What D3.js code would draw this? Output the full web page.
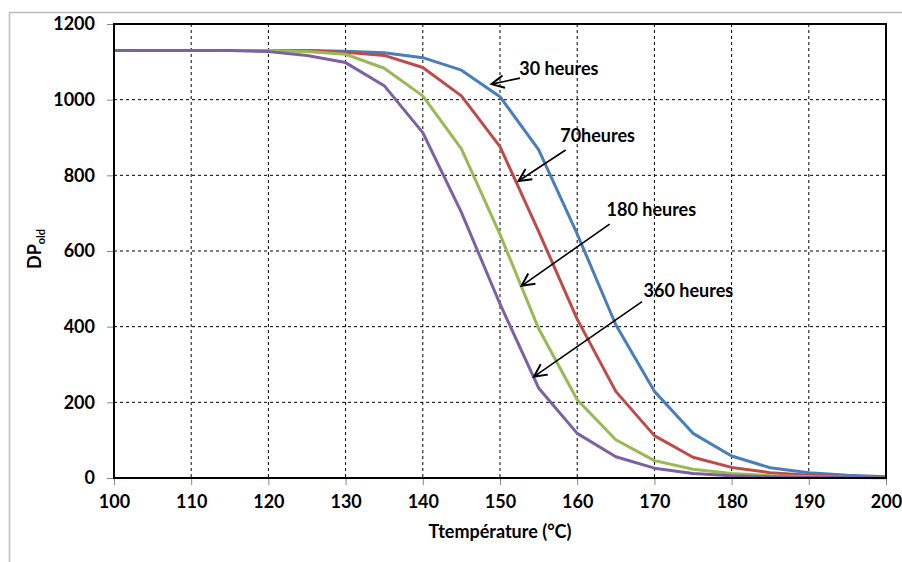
<!DOCTYPE html>
<html>
<head>
<meta charset="utf-8">
<script src="https://cdn.jsdelivr.net/npm/d3@7"></script>
<style>
  body { margin: 0; background: #fff; }
  svg text { font-family: Lato, "Open Sans", sans-serif; font-weight: bold; fill: #000; }
</style>
</head>
<body>
<div class="main"></div>
<script>
// temperature (°C) at which DP was computed
let temps = [100, 105, 110, 115, 120, 125, 130, 135, 140, 145, 150, 155, 160, 165, 170, 175, 180, 185, 190, 195, 200]

// DP_old after each ageing duration
let dp30h  = [1130, 1130, 1130, 1130, 1130, 1130, 1128, 1124, 1111, 1078, 1008, 868, 645, 405, 229, 118, 58, 27, 14, 7, 3]
let dp70h  = [1130, 1130, 1130, 1130, 1130, 1129, 1125, 1117, 1085, 1010, 876, 652, 420, 229, 112, 55, 28, 14, 7, 4, 2]
let dp180h = [1130, 1130, 1130, 1130, 1130, 1127, 1120, 1083, 1010, 870, 644, 395, 207, 101, 46, 23, 12, 6, 3, 2, 1]
let dp360h = [1130, 1130, 1130, 1130, 1127, 1117, 1098, 1037, 913, 702, 460, 238, 118, 56, 26, 12, 6, 3, 1.5, 1, 0.5]

let seriesNames = ['30 heures', '70heures', '180 heures', '360 heures']
let xTicks = [100, 110, 120, 130, 140, 150, 160, 170, 180, 190, 200]
let yTicks = [0, 200, 400, 600, 800, 1000, 1200]

// arrow tip / tail and label anchor, in data units
let noteTipT  = [148.9, 152.4, 152.8, 154.4]
let noteTipV  = [1041, 785, 508, 268]
let noteTailT = [152.6, 158.5, 164.2, 168.4]
let noteTailV = [1057, 867, 671, 466]
let noteTextT = [152.5, 157.8, 163.8, 168.6]
let noteTextV = [1065, 889, 692, 478]

let colors = ['#4a7ebb', '#be4b48', '#98b954', '#7d60a0']
let allSeries = [dp30h, dp70h, dp180h, dp360h]

let width = 902, height = 562
let plot = {left: 114, right: 886, top: 24, bottom: 478}

let svg = d3.select('.main').append('svg')
  .attr('width', width)
  .attr('height', height)

// outer chart frame
svg.append('rect')
  .attr('x', 9.5).attr('y', 12.5)
  .attr('width', 900).attr('height', 560)
  .attr('fill', 'none')
  .attr('stroke', '#bcbcbc')
  .attr('stroke-width', 1.5)

let xScale = d3.scaleLinear().domain([100, 200]).range([plot.left, plot.right])
let yScale = d3.scaleLinear().domain([0, 1200]).range([plot.bottom, plot.top])

// dashed grid
svg.append('g')
  .selectAll('line').data(xTicks.slice(1, -1)).enter().append('line')
    .attr('x1', d => xScale(d)).attr('x2', d => xScale(d))
    .attr('y1', plot.top).attr('y2', plot.bottom)
    .attr('stroke', '#000').attr('stroke-width', 1)
    .attr('stroke-dasharray', '3,3')

svg.append('g')
  .selectAll('line').data(yTicks.slice(1, -1)).enter().append('line')
    .attr('x1', plot.left).attr('x2', plot.right)
    .attr('y1', d => yScale(d)).attr('y2', d => yScale(d))
    .attr('stroke', '#000').attr('stroke-width', 1)
    .attr('stroke-dasharray', '3,3')

let xAxis = d3.axisBottom(xScale).tickValues(xTicks).tickFormat(d3.format('d')).tickSize(7).tickPadding(10)
let yAxis = d3.axisLeft(yScale).tickValues(yTicks).tickFormat(d3.format('d')).tickSize(7).tickPadding(12)

let gx = svg.append('g')
  .attr('transform', `translate(0, ${plot.bottom})`)
  .call(xAxis)
gx.select('.domain').remove()
gx.selectAll('.tick line').attr('stroke', '#868686')
gx.selectAll('.tick text').style('font-size', '18px')

let gy = svg.append('g')
  .attr('transform', `translate(${plot.left}, 0)`)
  .call(yAxis)
gy.select('.domain').remove()
gy.selectAll('.tick line').attr('stroke', '#868686')
gy.selectAll('.tick text').style('font-size', '18px')

// curves
let line = d3.line()
  .x((d, i) => xScale(temps[i]))
  .y(d => yScale(d))

svg.append('g')
  .selectAll('path').data(allSeries).enter().append('path')
    .attr('d', line)
    .attr('fill', 'none')
    .attr('stroke', (d, i) => colors[i])
    .attr('stroke-width', 3)
    .attr('stroke-linejoin', 'round')

// plot frame
svg.append('rect')
  .attr('x', plot.left).attr('y', plot.top)
  .attr('width', plot.right - plot.left).attr('height', plot.bottom - plot.top)
  .attr('fill', 'none')
  .attr('stroke', '#000')
  .attr('stroke-width', 2)

// annotations
svg.append('defs').append('marker')
  .attr('id', 'arrow')
  .attr('markerUnits', 'userSpaceOnUse')
  .attr('markerWidth', 20).attr('markerHeight', 20)
  .attr('refX', 0).attr('refY', 0)
  .attr('viewBox', '-12 -8 14 16')
  .attr('orient', 'auto')
  .append('path')
    .attr('d', 'M-10,-5 L0,0 L-10,5')
    .attr('fill', 'none')
    .attr('stroke', '#000')
    .attr('stroke-width', 1.6)

let notes = svg.append('g')
notes.selectAll('line').data(seriesNames).enter().append('line')
  .attr('x1', (d, i) => xScale(noteTailT[i]))
  .attr('y1', (d, i) => yScale(noteTailV[i]))
  .attr('x2', (d, i) => xScale(noteTipT[i]))
  .attr('y2', (d, i) => yScale(noteTipV[i]))
  .attr('stroke', '#000')
  .attr('stroke-width', 1.6)
  .attr('marker-end', 'url(#arrow)')

notes.selectAll('text').data(seriesNames).enter().append('text')
  .attr('x', (d, i) => xScale(noteTextT[i]))
  .attr('y', (d, i) => yScale(noteTextV[i]))
  .style('font-size', '18px')
  .text(d => d)

// axis titles
svg.append('text')
  .attr('x', (plot.left + plot.right) / 2)
  .attr('y', 538)
  .attr('text-anchor', 'middle')
  .style('font-size', '18px')
  .text('Ttempérature (°C)')

let yTitle = svg.append('text')
  .attr('transform', 'translate(41, 249) rotate(-90)')
  .attr('text-anchor', 'middle')
  .style('font-size', '18px')
yTitle.append('tspan').text('DP')
yTitle.append('tspan').attr('dy', 4).style('font-size', '11px').text('old')
</script>
</body>
</html>
